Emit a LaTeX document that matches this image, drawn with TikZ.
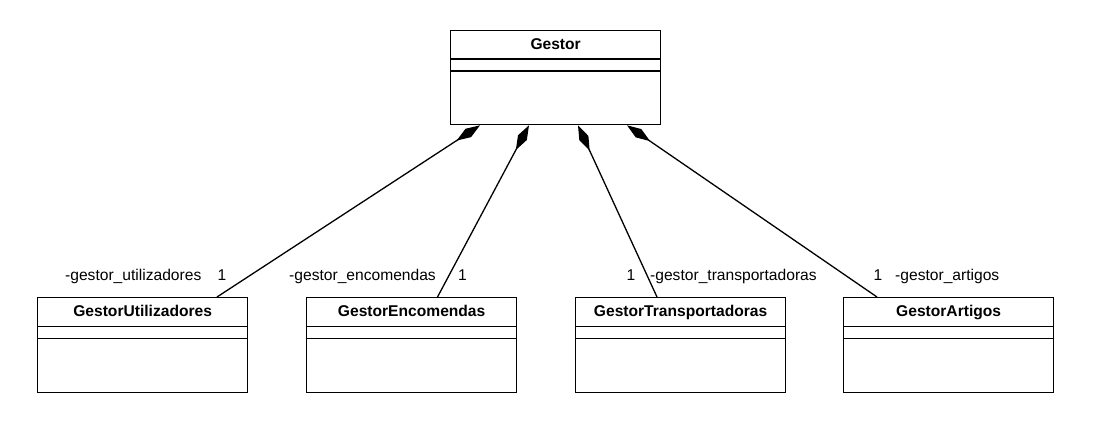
\documentclass[tikz,border=0pt]{standalone}
\usepackage{fontspec}
\setmainfont{Liberation Sans}
\usetikzlibrary{arrows.meta,calc}
\tikzset{
  classbox/.style={draw, line width=1.3pt, minimum width=210pt, minimum height=94.5pt, anchor=north west, inner sep=0pt},
  classname/.style={font=\fontsize{15.6}{18}\selectfont\bfseries, anchor=base},
  comp/.style={line width=1.3pt, {Diamond[length=28pt,width=10pt]}-},
  role/.style={inner sep=0pt}
}
\begin{document}
\begin{tikzpicture}[x=1pt, y=-1pt, font=\fontsize{15.6}{18}\selectfont, line join=miter]
	\useasboundingbox (0,0) rectangle (1095,424);
	% classes
	\node[classbox] (gestor) at (450,29.5) {};
	\node[classbox] (gu) at (37,297) {};
	\node[classbox] (ge) at (306,297) {};
	\node[classbox] (gt) at (575,297) {};
	\node[classbox] (ga) at (843,297) {};
	\node[classname] (ngestor) at ($(gestor.north)+(0,19.5)$) {Gestor};
	\node[classname] (ngu) at ($(gu.north)+(0,19.5)$) {GestorUtilizadores};
	\node[classname] (nge) at ($(ge.north)+(0,19.5)$) {GestorEncomendas};
	\node[classname] (ngt) at ($(gt.north)+(0,19.5)$) {GestorTransportadoras};
	\node[classname] (nga) at ($(ga.north)+(0,19.5)$) {GestorArtigos};
	\foreach \n in {gestor,gu,ge,gt,ga}
		\draw[line width=1.3pt] ($(\n.north west)+(0,29.5)$)--($(\n.north east)+(0,29.5)$) ($(\n.north west)+(0,41.5)$)--($(\n.north east)+(0,41.5)$);
	% compositions
	\draw[comp] ($(gestor.south west)+(30,0)$)--($(gu.north west)+(180,0)$);
	\draw[comp] ($(gestor.south west)+(79,0)$)--($(ge.north west)+(131.5,0)$);
	\draw[comp] ($(gestor.south west)+(128,0)$)--($(gt.north west)+(82,0)$);
	\draw[comp] ($(gestor.south west)+(177,0)$)--($(ga.north west)+(34,0)$);
	% roles and multiplicities
	\node[role, anchor=base west] (ru) at (65,280) {-gestor\_utilizadores};
	\node[role, anchor=base] (mu) at (222,280) {1};
	\node[role, anchor=base east] (re) at (436,280) {-gestor\_encomendas};
	\node[role, anchor=base] (me) at (462.5,280) {1};
	\node[role, anchor=base] (mt) at (631,280) {1};
	\node[role, anchor=base west] (rt) at (650,280) {-gestor\_transportadoras};
	\node[role, anchor=base] (ma) at (878,280) {1};
	\node[role, anchor=base west] (ra) at (895,280) {-gestor\_artigos};
\end{tikzpicture}
\end{document}
